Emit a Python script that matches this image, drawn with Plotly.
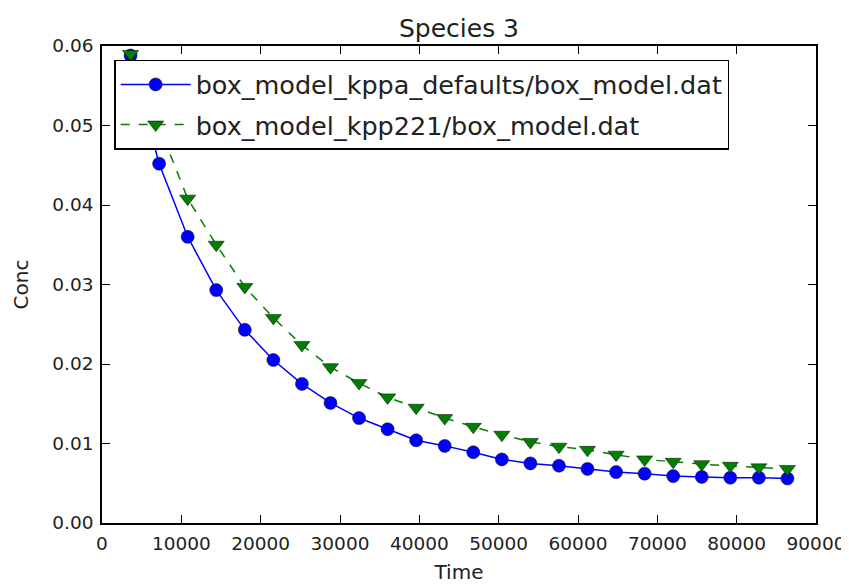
import plotly.graph_objects as go

time = [3600 * k for k in range(1, 25)]
kppa = [0.0588, 0.0452, 0.0360, 0.0293, 0.0243, 0.0205, 0.0175, 0.0151, 0.0132, 0.0118,
        0.0104, 0.0097, 0.0089, 0.0080, 0.0075, 0.0072, 0.0068, 0.0064, 0.0062, 0.0059,
        0.0058, 0.0057, 0.0057, 0.0056]
kpp221 = [0.0590, 0.0500, 0.0408, 0.0350, 0.0297, 0.0258, 0.0224, 0.0196, 0.0176, 0.0158,
          0.0145, 0.0132, 0.0121, 0.0111, 0.0102, 0.0096, 0.0092, 0.0086, 0.0080, 0.0077,
          0.0074, 0.0072, 0.0070, 0.0068]
names = ["box_model_kppa_defaults/box_model.dat", "box_model_kpp221/box_model.dat"]
x_ticks = list(range(0, 90001, 10000))
y_ticks = [0.00, 0.01, 0.02, 0.03, 0.04, 0.05, 0.06]

fig = go.Figure()
fig.add_trace(go.Scatter(
    x=time, y=kppa, name=names[0], mode="lines+markers", legendgroup="a",
    line=dict(color="#0000ff", width=1.5),
    marker=dict(symbol="circle", size=13, color="#0000ff", line=dict(color="#000000", width=0.5)),
))
fig.add_trace(go.Scatter(
    x=time, y=kpp221, name=names[1], mode="lines+markers", legendgroup="b",
    line=dict(color="#007f00", width=1.5, dash="dash"),
    marker=dict(symbol="triangle-down", size=14, color="#007f00", line=dict(color="#000000", width=0.5)),
))

axis_common = dict(
    showgrid=False, zeroline=False, showline=True, linecolor="black", linewidth=1.5,
    mirror="ticks", ticks="inside", ticklen=8, tickcolor="black", tickwidth=1,
    ticklabelstandoff=3,
    tickfont=dict(family="DejaVu Sans", size=18.5, color="#222222"),
)

fig.update_layout(
    width=849, height=586,
    margin=dict(l=92, r=41, t=38, b=71),
    paper_bgcolor="white", plot_bgcolor="white",
    title=dict(text="Species 3", x=0.5, xref="paper", xanchor="center",
               y=0.98, yref="container", yanchor="top",
               font=dict(family="DejaVu Sans", size=25, color="#222222")),
    font=dict(family="DejaVu Sans", color="#222222"),
    legend=dict(x=0.017, y=0.971, xanchor="left", yanchor="top",
                bordercolor="black", borderwidth=1.5, bgcolor="white",
                font=dict(family="DejaVu Sans", size=25.5, color="#222222"),
                itemwidth=70, tracegroupgap=4),
    xaxis=dict(range=[0, 90000], tickvals=x_ticks, ticktext=[str(v) for v in x_ticks],
               title=dict(text="Time", font=dict(size=20), standoff=12), **axis_common),
    yaxis=dict(range=[0, 0.06], tickvals=y_ticks, ticktext=[f"{v:.2f}" for v in y_ticks],
               title=dict(text="Conc", font=dict(size=20), standoff=18), **axis_common),
)

fig.write_html("out.html")
